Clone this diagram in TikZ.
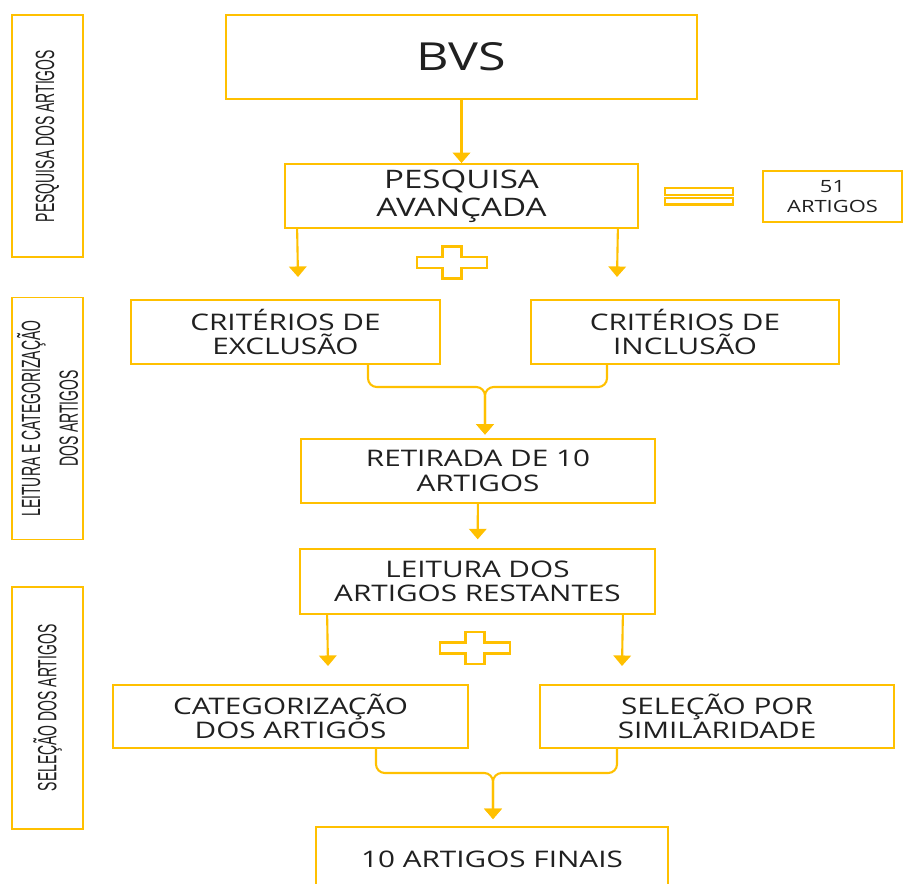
\documentclass[tikz,border=0pt]{standalone}
\usepackage{fontspec}
\setmainfont[FakeStretch=1.3]{Open Sans}
\newfontfamily\narrowfont[FakeStretch=0.53]{Liberation Sans}
\usepackage{tikz}
\usetikzlibrary{arrows.meta, calc}
\usepackage{xcolor}
\definecolor{amberline}{RGB}{255,192,0}
\definecolor{inktext}{RGB}{32,32,32}
\tikzset{
  basebox/.style={
    rectangle, draw=amberline, line width=1pt, fill=white, align=center, text=inktext, inner sep=0pt
  },
  flowbox/.style 2 args={basebox, minimum width=#1*0.02cm, minimum height=#2*0.02cm,
    font=\fontsize{13}{13.9}\selectfont},
  sidebox/.style={basebox, rotate=90, minimum width=242*0.02cm, minimum height=71*0.02cm,
    font=\narrowfont\fontsize{15}{21.5}\selectfont},
  arrow/.style={-{Triangle[width=10pt,length=6pt]}, draw=amberline, line width=1.2pt},
  bracearrow/.style={arrow, rounded corners=5pt},
  signline/.style={draw=amberline, line width=1.3pt},
  plussign/.pic={
    \draw[signline] (-35,-5.5) -- (-9.5,-5.5) -- (-9.5,-16) -- (9.5,-16) -- (9.5,-5.5) -- (35,-5.5)
      -- (35,5.5) -- (9.5,5.5) -- (9.5,16) -- (-9.5,16) -- (-9.5,5.5) -- (-35,5.5) -- cycle;
  }
}

\begin{document}
\begin{tikzpicture}[x=0.02cm, y=-0.02cm]
  \useasboundingbox (0,0) rectangle (903,884);
  \clip (0,0) rectangle (903,884);

  % stages
  \node[sidebox] (side1) at (47.5,136) {PESQUISA DOS ARTIGOS};
  \node[sidebox] (side2) at (47.5,418.5) {LEITURA E CATEGORIZAÇÃO\\DOS ARTIGOS};
  \node[sidebox] (side3) at (47.5,708) {SELEÇÃO DOS ARTIGOS};

  % flow
  \node[flowbox={471}{84}, font=\fontsize{22}{26}\selectfont] (bvs) at (461.5,57) {BVS};
  \node[flowbox={353}{64}, font=\fontsize{14.5}{15.9}\selectfont] (pesq) at (461.5,196) {PESQUISA\\AVANÇADA};
  \node[flowbox={139}{51}, font=\fontsize{9.6}{11.3}\selectfont] (total) at (832.5,196.5) {51\\ARTIGOS};
  \node[flowbox={309}{64}] (excl) at (285.5,332) {CRITÉRIOS DE\\EXCLUSÃO};
  \node[flowbox={308}{64}] (incl) at (685,332) {CRITÉRIOS DE\\INCLUSÃO};
  \node[flowbox={354}{64}] (ret) at (478,471) {RETIRADA DE 10\\ARTIGOS};
  \node[flowbox={355}{65}] (leit) at (477.5,581.5) {LEITURA DOS\\ARTIGOS RESTANTES};
  \node[flowbox={355}{63}] (cat) at (290.5,716.5) {CATEGORIZAÇÃO\\DOS ARTIGOS};
  \node[flowbox={354}{63}] (sel) at (717,716.5) {SELEÇÃO POR\\SIMILARIDADE};
  \node[flowbox={352}{64}] (fin) at (492,859) {10 ARTIGOS FINAIS};

  % signs
  \draw[signline] (665,188) rectangle (733,195);
  \draw[signline] (665,198) rectangle (733,204.5);
  \pic at (452,262.5) {plussign};
  \pic at (475,648) {plussign};

  % free ends and junctions
  \coordinate (t1) at (298,277);
  \coordinate (t2) at (617,277);
  \coordinate (t3) at (328,666);
  \coordinate (t4) at (622,666);
  \coordinate (j1) at (485,387);
  \coordinate (j2) at (493,773);

  \draw[arrow] (bvs) -- (pesq);
  \draw[arrow] ($(pesq.south west)+(13,0)$) -- (t1);
  \draw[arrow] ($(pesq.south east)+(-21,0)$) -- (t2);
  \draw[bracearrow, shorten >=2pt] ($(excl.south)+(82.5,0)$) |- (j1) -- (j1 |- ret.north);
  \draw[bracearrow, shorten >=2pt] ($(incl.south)+(-78,0)$) |- (j1) -- (j1 |- ret.north);
  \draw[arrow, shorten >=5pt] (ret) -- (leit);
  \draw[arrow] ($(leit.south west)+(28,0)$) -- (t3);
  \draw[arrow] ($(leit.south east)+(-33,0)$) -- (t4);
  \draw[bracearrow, shorten >=4pt] ($(cat.south)+(85.5,0)$) |- (j2) -- (j2 |- fin.north);
  \draw[bracearrow, shorten >=4pt] ($(sel.south)+(-100,0)$) |- (j2) -- (j2 |- fin.north);
\end{tikzpicture}
\end{document}
